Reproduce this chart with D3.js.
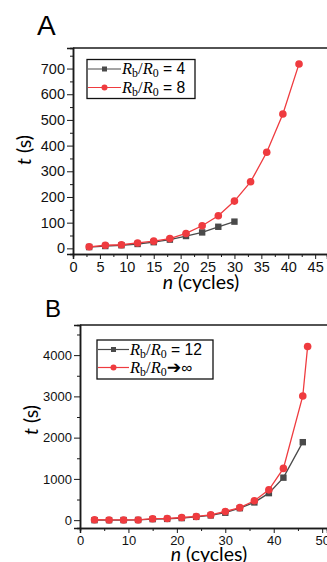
<!DOCTYPE html>
<html><head><meta charset="utf-8">
<script src="https://cdn.jsdelivr.net/npm/d3@7"></script>
<style>
html,body{margin:0;padding:0;background:#fff;}
svg{display:block;}
</style></head>
<body>
<svg id="chart" width="327" height="562"></svg>
<script>
// ---------- DATA ----------
const nA4 = [3,6,9,12,15,18,21,24,27,30];
const tA4 = [5,9,12,17,24,34,48,62,84,104];
const nA8 = [3,6,9,12,15,18,21,24,27,30,33,36,39,42];
const tA8 = [6,12,14,21,28,38,58,88,127,184,259,374,523,718];
const nB12 = [3,6,9,12,15,18,21,24,27,30,33,36,39,42,46];
const tB12 = [0,0,2,5,25,30,50,80,115,180,290,430,655,1030,1890];
const nBinf = [3,6,9,12,15,18,21,24,27,30,33,36,39,42,46,47];
const tBinf = [10,5,5,5,35,40,65,90,128,210,305,470,735,1255,3010,4210];
const xTicksA = [0,5,10,15,20,25,30,35,40,45];
const yTicksA = [0,100,200,300,400,500,600,700];
const xTicksB = [0,10,20,30,40,50];
const yTicksB = [0,1000,2000,3000,4000];
const legendA = ["4","8"];
const legendB = ["12","∞"];

const RED = "#ef3b3f", BLACK = "#4a4a4a", AX = "#1a1a1a";
const svg = d3.select("#chart");

function panel(cfg){
  const g = svg.append("g");
  const x = d3.scaleLinear().domain(cfg.xd).range(cfg.xr);
  const y = d3.scaleLinear().domain(cfg.yd).range(cfg.yr);
  g.append("line").attr("x1",cfg.xr[0]).attr("x2",cfg.xr[1]).attr("y1",cfg.yr[1]).attr("y2",cfg.yr[1])
    .attr("stroke",AX).attr("stroke-width",1.3);
  const yMinor = d3.range(cfg.yMinorStart, cfg.yd[1], cfg.yMinorStep);
  const xMinor = d3.range(cfg.xMinorStart, cfg.xd[1], cfg.xMinorStep);
  const ax = g.append("g").attr("transform",`translate(0,${cfg.yr[0]})`)
    .call(d3.axisBottom(x).tickValues(xMinor).tickSize(3).tickFormat(""));
  const ay = g.append("g").attr("transform",`translate(${cfg.xr[0]},0)`)
    .call(d3.axisLeft(y).tickValues(yMinor).tickSize(3).tickFormat(""));
  const axM = g.append("g").attr("transform",`translate(0,${cfg.yr[0]})`)
    .call(d3.axisBottom(x).tickValues(cfg.xt).tickSize(5).tickPadding(3).tickFormat(d3.format("d")));
  const ayM = g.append("g").attr("transform",`translate(${cfg.xr[0]},0)`)
    .call(d3.axisLeft(y).tickValues(cfg.yt).tickSize(6).tickPadding(2).tickFormat(d3.format("d")));
  [ax,ay,axM,ayM].forEach(a=>{
    a.select(".domain").attr("stroke",AX).attr("stroke-width",1.5);
    a.selectAll(".tick line").attr("stroke",AX).attr("stroke-width",1);
    a.selectAll("text").attr("fill","#111").style("font-family","'Liberation Sans',Arial,sans-serif").style("font-size",cfg.fs+"px");
  });
  const line = d3.line().x(d=>x(d[0])).y(d=>y(d[1]));
  cfg.series.forEach(s=>{
    const pts = s.n.map((n,i)=>[n,s.t[i]]);
    g.append("path").datum(pts).attr("d",line).attr("fill","none").attr("stroke",s.color).attr("stroke-width",1.3);
    if(s.shape==="square"){
      g.selectAll(null).data(pts).enter().append("rect")
        .attr("x",d=>x(d[0])-3.2).attr("y",d=>y(d[1])-3.2).attr("width",6.4).attr("height",6.4).attr("fill",s.color);
    } else {
      g.selectAll(null).data(pts).enter().append("circle")
        .attr("cx",d=>x(d[0])).attr("cy",d=>y(d[1])).attr("r",3.8).attr("fill",s.color);
    }
  });
  g.append("text").attr("x",cfg.letterX).attr("y",cfg.letterY).text(cfg.letter)
    .style("font-family","'Liberation Sans',Arial,sans-serif").style("font-size",cfg.letterFs+"px").attr("fill","#000");
  const yt = g.append("text").attr("transform",`translate(${cfg.ytX},${cfg.ytY}) rotate(-90)`).attr("text-anchor","middle")
    .style("font-family","Lato,'Open Sans',sans-serif").style("font-size",cfg.titleFs+"px").attr("fill","#000");
  yt.append("tspan").style("font-style","italic").text("t");
  yt.append("tspan").text(" (s)");
  const xt = g.append("text").attr("x",cfg.xtX).attr("y",cfg.xtY).attr("text-anchor","middle")
    .style("font-family","Lato,'Open Sans',sans-serif").style("font-size",cfg.titleFs+"px").attr("fill","#000");
  xt.append("tspan").style("font-style","italic").text("n");
  xt.append("tspan").text(" (cycles)");
  const L = cfg.leg;
  g.append("rect").attr("x",L.x).attr("y",L.y).attr("width",L.w).attr("height",L.h)
    .attr("fill","#fff").attr("stroke","#111").attr("stroke-width",1.3);
  cfg.series.forEach((s,i)=>{
    const yy = L.rows[i];
    g.append("line").attr("x1",L.lx1).attr("x2",L.lx2).attr("y1",yy).attr("y2",yy).attr("stroke",s.color).attr("stroke-width",1.2);
    const mx=(L.lx1+L.lx2)/2;
    if(s.shape==="square") g.append("rect").attr("x",mx-2.5).attr("y",yy-2.5).attr("width",5).attr("height",5).attr("fill",s.color);
    else g.append("circle").attr("cx",mx).attr("cy",yy).attr("r",3).attr("fill",s.color);
    const t = g.append("text").attr("x",L.lx2+1).attr("y",yy+5).attr("fill","#000").style("font-size",L.fs+"px");
    const serif="'Liberation Serif','DejaVu Serif',serif";
    t.append("tspan").style("font-family",serif).style("font-style","italic").text("R");
    t.append("tspan").style("font-family",serif).attr("dy",3).style("font-size",(L.fs*0.72)+"px").text("b");
    t.append("tspan").style("font-family",serif).attr("dy",-3).text("/");
    t.append("tspan").style("font-family",serif).style("font-style","italic").text("R");
    t.append("tspan").style("font-family",serif).attr("dy",3).style("font-size",(L.fs*0.72)+"px").text("0");
    if(s.label==="∞"){
      t.append("tspan").attr("dy",-3).style("font-family","'DejaVu Sans',sans-serif").style("font-weight","bold").style("font-size",(L.fs*1.05)+"px").text("➔");
      t.append("tspan").style("font-family","'Liberation Sans',Arial,sans-serif").style("font-size",(L.fs*0.95)+"px").text("∞");
    } else {
      t.append("tspan").attr("dy",-3).style("font-family","'Liberation Sans',Arial,sans-serif").style("font-size",(L.fs*0.95)+"px").text(" = "+s.label);
    }
  });
}

panel({
  xd:[0,47.2], xr:[73,327], yd:[-22,780], yr:[254,48],
  xt:xTicksA, yt:yTicksA, xMinorStart:2.5, xMinorStep:5, yMinorStart:50, yMinorStep:100,
  fs:14.5, letter:"A", letterX:37, letterY:35, letterFs:28,
  ytX:31, ytY:150, xtX:201, xtY:289, titleFs:19.5,
  series:[
    {n:nA4,t:tA4,color:BLACK,shape:"square",label:legendA[0]},
    {n:nA8,t:tA8,color:RED,shape:"circle",label:legendA[1]}
  ],
  leg:{x:87,y:59.5,w:108,h:39,rows:[69,87.5],lx1:88,lx2:121,fs:16.5}
});

panel({
  xd:[0,51], xr:[80,327], yd:[-190,4730], yr:[528,325],
  xt:xTicksB, yt:yTicksB, xMinorStart:5, xMinorStep:10, yMinorStart:500, yMinorStep:1000,
  fs:13, letter:"B", letterX:45, letterY:317, letterFs:24,
  ytX:38, ytY:420, xtX:209, xtY:561, titleFs:19.5,
  series:[
    {n:nB12,t:tB12,color:BLACK,shape:"square",label:legendB[0]},
    {n:nBinf,t:tBinf,color:RED,shape:"circle",label:legendB[1]}
  ],
  leg:{x:97,y:340,w:116,h:39,rows:[349.5,367.5],lx1:98,lx2:129,fs:16.5}
});
</script>
</body></html>
